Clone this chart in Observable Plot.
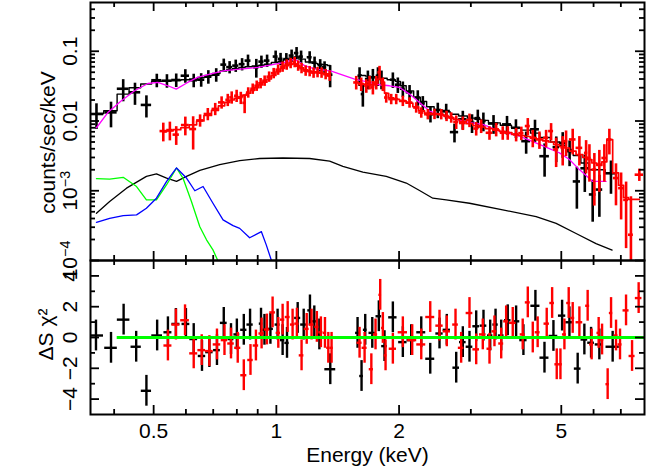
<!DOCTYPE html>
<html><head><meta charset="utf-8">
<script src="https://cdn.jsdelivr.net/npm/d3@7"></script>
<script src="https://cdn.jsdelivr.net/npm/@observablehq/plot@0.6"></script>
<style>
body{margin:0;background:#fff;}
#chart{position:relative;width:648px;height:467px;}
#chart svg{position:absolute;left:0;overflow:visible;}
</style></head><body><div id="chart"></div><script>
// ---------------- data ----------------
const blackE = [0.362,0.393,0.421,0.450,0.480,0.509,0.539,0.568,0.598,0.627,0.654,0.681,0.712,0.743,0.768,0.795,0.824,0.852,0.893,0.919,0.949,0.996,1.024,1.058,1.090,1.121,1.150,1.207,1.241,1.281,1.313,1.355,1.600,1.630,1.677,1.725,1.775,1.811,1.931,1.986,2.043,2.122,2.223,2.287,2.388,2.489,2.61,2.735,2.867,3.02,3.12,3.22,3.41,3.68,3.87,4.10,4.31,4.55,4.86,5.04,5.24,5.46,5.71,5.97,6.20,6.62];
const blackFlux = [0.0126,0.0133,0.0290,0.0258,0.0170,0.0384,0.0378,0.0387,0.0446,0.0384,0.0391,0.0432,0.0461,0.0643,0.0592,0.0622,0.0653,0.0734,0.0588,0.0710,0.0734,0.0839,0.0777,0.0772,0.0867,0.0942,0.0839,0.0820,0.0687,0.0632,0.0588,0.0461,0.0446,0.0243,0.0400,0.0422,0.0446,0.0400,0.0391,0.0331,0.0290,0.0258,0.0217,0.0179,0.0125,0.0144,0.0139,0.00693,0.0106,0.00945,0.0110,0.0100,0.0092,0.00895,0.0080,0.00514,0.0076,0.00313,0.00422,0.00486,0.00369,0.00136,0.0021,0.000885,0.00104,0.00178];
const blackRelErr = [0.4,0.4,0.35,0.35,0.35,0.22,0.22,0.22,0.22,0.22,0.22,0.22,0.22,0.2,0.2,0.2,0.2,0.2,0.3,0.2,0.2,0.2,0.2,0.2,0.2,0.2,0.2,0.2,0.2,0.2,0.2,0.35,0.3,0.35,0.3,0.3,0.3,0.3,0.25,0.25,0.25,0.25,0.25,0.25,0.25,0.25,0.25,0.3,0.3,0.3,0.3,0.3,0.3,0.3,0.3,0.35,0.35,0.5,0.4,0.4,0.4,0.6,0.55,0.6,0.6,0.5];
const blackModel = [0.0128,0.0140,0.0243,0.0300,0.0340,0.0370,0.0375,0.0380,0.0390,0.0400,0.0420,0.0450,0.0480,0.0520,0.0545,0.0565,0.0585,0.0600,0.0615,0.0630,0.0650,0.0690,0.0720,0.0760,0.0800,0.0830,0.0770,0.0700,0.0670,0.0650,0.0640,0.0625,0.0460,0.0450,0.0440,0.0430,0.0425,0.0410,0.0390,0.0370,0.0320,0.0270,0.0220,0.0190,0.0160,0.0145,0.0135,0.0125,0.0118,0.0110,0.0106,0.0102,0.0094,0.0087,0.0080,0.0074,0.0067,0.0058,0.0050,0.0045,0.0039,0.0032,0.0025,0.0020,0.0020,0.0018];

const redE = [0.528,0.548,0.568,0.598,0.625,0.650,0.679,0.708,0.734,0.760,0.777,0.799,0.818,0.836,0.853,0.875,0.895,0.915,0.936,0.960,0.985,1.010,1.036,1.060,1.084,1.109,1.131,1.153,1.180,1.207,1.234,1.262,1.291,1.321,1.351,1.570,1.615,1.662,1.693,1.725,1.758,1.791,1.825,1.860,1.913,1.968,2.043,2.122,2.203,2.267,2.353,2.443,2.538,2.615,2.685,2.762,2.867,2.977,3.092,3.18,3.333,3.461,3.592,3.695,3.874,3.99,4.138,4.256,4.419,4.589,4.72,4.857,5.04,5.137,5.333,5.538,5.752,5.861,6.027,6.199,6.377,6.56,6.81,7.01,7.21,7.41,7.77];
const redFlux = [0.00717,0.00741,0.00638,0.00875,0.00767,0.0102,0.0126,0.0149,0.0185,0.0201,0.0218,0.0230,0.0215,0.0182,0.0256,0.0290,0.0320,0.0348,0.0378,0.0432,0.0485,0.0544,0.0601,0.0643,0.0676,0.0698,0.0622,0.0573,0.0527,0.0518,0.0493,0.0501,0.0493,0.0469,0.0446,0.0357,0.0339,0.0320,0.0357,0.0303,0.0357,0.0498,0.0339,0.0217,0.0206,0.0206,0.0194,0.0184,0.0156,0.0132,0.0125,0.0126,0.0125,0.0118,0.0112,0.00968,0.00936,0.0103,0.0078,0.00847,0.00678,0.00759,0.00678,0.00678,0.00643,0.0067,0.00847,0.00574,0.00544,0.00574,0.00717,0.00391,0.00412,0.00514,0.00544,0.00412,0.00349,0.00295,0.00201,0.00237,0.00295,0.00544,0.00152,0.00109,0.00074,0.000234,0.0017];
const redRelErr = [0.3,0.3,0.3,0.3,0.5,0.2,0.2,0.2,0.2,0.2,0.2,0.2,0.2,0.3,0.17,0.17,0.17,0.17,0.17,0.17,0.17,0.17,0.17,0.17,0.17,0.17,0.17,0.17,0.17,0.17,0.17,0.17,0.17,0.17,0.17,0.22,0.22,0.22,0.22,0.22,0.22,0.22,0.22,0.17,0.17,0.17,0.17,0.17,0.17,0.17,0.17,0.17,0.17,0.17,0.17,0.22,0.22,0.22,0.22,0.22,0.22,0.22,0.22,0.22,0.22,0.22,0.28,0.28,0.28,0.28,0.28,0.45,0.45,0.4,0.4,0.45,0.5,0.55,0.7,0.6,0.55,0.4,0.6,0.65,0.8,2.5,0.2];
const redModel = [0.0070,0.0072,0.0075,0.0080,0.0088,0.0100,0.0120,0.0142,0.0165,0.0185,0.0200,0.0212,0.0222,0.0235,0.0250,0.0275,0.0300,0.0330,0.0360,0.0400,0.0450,0.0510,0.0570,0.0620,0.0650,0.0660,0.0620,0.0580,0.0540,0.0520,0.0505,0.0495,0.0485,0.0475,0.0465,0.0355,0.0345,0.0335,0.0330,0.0330,0.0345,0.0400,0.0360,0.0250,0.0215,0.0205,0.0195,0.0180,0.0160,0.0140,0.0130,0.0127,0.0124,0.0118,0.0112,0.0105,0.0098,0.0092,0.0086,0.0082,0.0078,0.0074,0.0071,0.0068,0.0064,0.0062,0.0060,0.0058,0.0055,0.0052,0.0050,0.0046,0.0043,0.0041,0.0037,0.0033,0.0030,0.0028,0.0025,0.0023,0.0026,0.0054,0.0018,0.0012,0.00080,0.00075,0.00075];

const magentaE = [0.362,0.386,0.416,0.449,0.484,0.512,0.542,0.568,0.606,0.641,0.691,0.747,0.901,1.048,1.109,1.173,1.241,1.364,1.556,1.693,1.791,1.895,2.005,2.122,2.245,2.376,2.66,2.977,3.21,3.526,3.948,4.419,4.948,5.235,5.538,5.97,6.438];
const magentaV = [0.0080,0.0132,0.0194,0.0271,0.0345,0.0357,0.0320,0.0287,0.0357,0.0422,0.0472,0.0527,0.0588,0.0694,0.0772,0.0622,0.0557,0.0518,0.0400,0.0357,0.0331,0.0320,0.0303,0.0243,0.0184,0.0139,0.0112,0.00945,0.00896,0.00717,0.00608,0.00461,0.00349,0.0028,0.00201,0.00136,0.00136];

const compBlackE = [0.362,0.390,0.429,0.480,0.508,0.538,0.569,0.602,0.649,0.726,0.813,0.910,1.038,1.207,1.351,1.456,1.630,1.860,2.083,2.245,2.42,2.61,2.977,3.592,4.338,4.857,5.436,6.084,6.663];
const compBlackV = [0.000475,0.000701,0.00109,0.00161,0.00174,0.00152,0.00136,0.00161,0.00196,0.00237,0.00271,0.0029,0.00295,0.0029,0.00265,0.00224,0.00185,0.00161,0.00129,0.00101,0.000782,0.000741,0.000662,0.000532,0.000426,0.00034,0.000244,0.000175,0.000141];
const compGreenE = [0.362,0.390,0.421,0.454,0.480,0.508,0.538,0.569,0.590,0.619,0.649,0.674,0.699,0.719];
const compGreenV = [0.00149,0.00147,0.00156,0.00115,0.000741,0.000741,0.00122,0.00212,0.00152,0.000701,0.000305,0.000198,0.000142,0.0000987];
const compBlueE = [0.362,0.390,0.421,0.454,0.480,0.508,0.538,0.569,0.602,0.631,0.661,0.699,0.740,0.783,0.813,0.860,0.919,0.945,0.972];
const compBlueV = [0.000352,0.000403,0.000441,0.000451,0.000561,0.000782,0.00136,0.00212,0.00152,0.001,0.00115,0.000662,0.000382,0.000316,0.000289,0.000212,0.000259,0.000166,0.000101];

const blackResE = [0.361,0.393,0.422,0.453,0.480,0.510,0.542,0.567,0.600,0.627,0.657,0.685,0.715,0.743,0.774,0.800,0.832,0.862,0.917,0.935,0.967,1.007,1.036,1.062,1.128,1.167,1.209,1.239,1.275,1.356,1.582,1.618,1.652,1.719,1.784,1.842,1.931,2.043,2.142,2.267,2.385,2.513,2.619,2.762,2.867,2.977,3.092,3.222,3.346,3.449,3.561,3.695,3.874,4.037,4.32,4.547,4.783,5.023,5.235,5.485,5.696,5.916,6.199,6.683];
const blackRes = [0.13,-0.67,1.16,-0.6,-3.46,0.13,0.34,0.88,0.88,-0.1,-1.2,-0.95,-0.82,0.95,-0.1,0.2,0.5,0.84,0.9,0.5,0.56,0.84,-0.17,-0.35,1.27,0.84,1.76,1.05,0.2,-2.06,0.3,-2.5,0.5,0.3,1.38,-0.56,1.31,-0.3,-0.17,0.34,-1.38,0.26,0.5,-1.96,-0.3,-0.6,0.73,0.77,0.13,0.84,0.13,1.12,1.05,-0.17,2.06,-1.31,0.1,1.42,0.99,-2.02,-0.13,-0.34,-0.45,-0.6];
const redResE = [0.542,0.567,0.597,0.627,0.656,0.685,0.715,0.746,0.774,0.804,0.832,0.864,0.891,0.920,0.948,0.979,1.011,1.036,1.066,1.096,1.123,1.153,1.187,1.22,1.257,1.286,1.316,1.341,1.366,1.600,1.646,1.710,1.751,1.798,1.825,1.853,1.931,2.043,2.154,2.267,2.385,2.513,2.619,2.751,2.840,2.977,3.092,3.209,3.333,3.428,3.561,3.662,3.801,4.021,4.138,4.256,4.375,4.605,4.748,4.873,4.976,5.089,5.214,5.333,5.538,5.803,5.935,6.175,6.295,6.497,6.623,6.812,6.967,7.208,7.457,7.74];
const redRes = [-0.52,0.84,1.12,-1.03,-0.82,-0.88,-0.45,-0.17,-0.39,-0.67,-2.45,-1.46,-0.52,0.26,0.52,1.63,0.3,1.16,1.33,0.84,0.9,-1.16,0.56,0.84,0.69,0.34,0.3,-0.67,-0.67,-0.34,-0.67,-2.06,0.2,2.77,0.62,-1.16,-0.73,0.34,-0.17,-0.45,1.33,0.77,0.4,0.84,-0.67,1.59,-0.77,0.2,-0.73,0.4,-0.39,1.05,0.95,0.2,2.28,0,0.34,0.9,2.24,-1.74,-1.74,0.2,2.24,1.27,0.99,2.06,-0.45,0.3,-0.13,-3.03,1.59,0.13,-0.45,1.76,-1.2,2.56];
const resErr = 1;              // delchi residuals have unit error bars
const zeroLineRange = [0.407, 8];

const xLabels = [0.5, 1, 2, 5];
const xMinor = [0.4, 0.6, 0.7, 0.8, 0.9, 3, 4, 6, 7];
const yTopLabels = [{v: 0.1, t: "0.1"}, {v: 0.01, t: "0.01"}, {v: 0.001, t: "10^−3"}, {v: 0.0001, t: "10^−4"}];
const yResLabels = [4, 2, 0, -2, -4];
const yResMinor = [3, 1, -1, -3];

// ---------------- layout ----------------
const W = 648, LM = 90, RM = 4, IW = W - LM - RM;
const topH = 261, topMT = 2, topMB = 1, topIH = topH - topMT - topMB;
const botTop = 259, botH = 208, botMT = 1, botMB = 53, botIH = botH - botMT - botMB;
const FONT = "'Liberation Sans', Arial, Helvetica, sans-serif";
const RED = "#ff0000", GREEN = "#00ff00", BLUE = "#0000ff", MAGENTA = "#ff00ff";

function binEdges(E) {
  const L = E.map(Math.log10);
  return E.map((e, i) => {
    const dl = i > 0 ? L[i] - L[i - 1] : Infinity;
    const dr = i < E.length - 1 ? L[i + 1] - L[i] : Infinity;
    const h = Math.min(dl, dr) / 2;
    return [10 ** (L[i] - h), 10 ** (L[i] + h)];
  });
}
function specTable(E, F, R, M) {
  const b = binEdges(E);
  return E.map((e, i) => ({e, v: F[i], lo: b[i][0], hi: b[i][1],
    y1: Math.max(F[i] * (1 - R[i]), 1e-7), y2: F[i] * (1 + R[i]), m: M[i], seg: e < 1.45 ? 0 : 1}));
}
function resTable(E, Rs) {
  const b = binEdges(E);
  return E.map((e, i) => ({e, r: Rs[i], lo: b[i][0], hi: b[i][1]}));
}
const pts = (E, V) => E.map((e, i) => ({e, v: V[i]}));

const blackTab = specTable(blackE, blackFlux, blackRelErr, blackModel);
const redTab = specTable(redE, redFlux, redRelErr, redModel);
const blackResTab = resTable(blackResE, blackRes);
const redResTab = resTable(redResE, redRes);

function ticks(xMaj, xMin, yMaj, yMin, IH) {
  const s = {stroke: "black", strokeWidth: 1.8};
  return [
    Plot.ruleX(xMaj, {x: d => d, insetTop: IH - 9, ...s}),
    Plot.ruleX(xMaj, {x: d => d, insetBottom: IH - 9, ...s}),
    Plot.ruleX(xMin, {x: d => d, insetTop: IH - 5, ...s}),
    Plot.ruleX(xMin, {x: d => d, insetBottom: IH - 5, ...s}),
    Plot.ruleY(yMaj, {y: d => d, insetRight: IW - 9, ...s}),
    Plot.ruleY(yMaj, {y: d => d, insetLeft: IW - 9, ...s}),
    Plot.ruleY(yMin, {y: d => d, insetRight: IW - 5, ...s}),
    Plot.ruleY(yMin, {y: d => d, insetLeft: IW - 5, ...s})
  ];
}
const yTopMinor = [];
for (const d of [1e-4, 1e-3, 1e-2, 1e-1]) for (let k = 2; k <= 9; k++) if (d * k < 0.499) yTopMinor.push(d * k);

const common = {
  width: W, marginLeft: LM, marginRight: RM,
  x: {type: "log", domain: [0.35, 8], axis: null},
  style: {fontFamily: FONT, fontSize: "21px", background: "transparent", overflow: "visible"}
};

function crosses(tab, color, yKey, y1, y2, sw) {
  return [
    Plot.ruleY(tab, {y: yKey, x1: "lo", x2: "hi", stroke: color, strokeWidth: sw, clip: true}),
    Plot.ruleX(tab, {x: "e", y1, y2, stroke: color, strokeWidth: sw, clip: true})
  ];
}
const vtext = {frameAnchor: "left", rotate: -90, textAnchor: "middle", lineAnchor: "middle", fontSize: 21};

const topPlot = Plot.plot({
  ...common, height: topH, marginTop: topMT, marginBottom: topMB,
  y: {type: "log", domain: [1e-4, 0.5], axis: null},
  marks: [
    Plot.line(pts(compBlackE, compBlackV), {x: "e", y: "v", stroke: "black", strokeWidth: 1.3, clip: true}),
    Plot.line(pts(compGreenE, compGreenV), {x: "e", y: "v", stroke: GREEN, strokeWidth: 1.3, clip: true}),
    Plot.line(pts(compBlueE, compBlueV), {x: "e", y: "v", stroke: BLUE, strokeWidth: 1.3, clip: true}),
    ...crosses(blackTab, "black", "v", "y1", "y2", 2.6),
    Plot.line(blackTab, {x: "e", y: "m", z: "seg", curve: "step", stroke: "black", strokeWidth: 1.4, clip: true}),
    Plot.line(pts(magentaE, magentaV), {x: "e", y: "v", stroke: MAGENTA, strokeWidth: 1.3, clip: true}),
    ...crosses(redTab, RED, "v", "y1", "y2", 2.6),
    Plot.line(redTab, {x: "e", y: "m", z: "seg", curve: "step", stroke: RED, strokeWidth: 1.7, clip: true}),
    ...ticks(xLabels, xMinor, yTopLabels.map(d => d.v), yTopMinor, topIH),
    Plot.frame({stroke: "black", strokeWidth: 2}),
    Plot.text(yTopLabels, {y: "v", text: "t", dx: -20, ...vtext}),
    Plot.text(["counts/sec/keV"], {text: d => d, dx: -42, dy: 11, ...vtext})
  ]
});

const bottomPlot = Plot.plot({
  ...common, height: botH, marginTop: botMT, marginBottom: botMB,
  y: {domain: [-5, 5], axis: null},
  marks: [
    ...crosses(blackResTab, "black", "r", d => d.r - resErr, d => d.r + resErr, 2.4),
    ...crosses(redResTab, RED, "r", d => d.r - resErr, d => d.r + resErr, 2.4),
    Plot.ruleY([0], {x1: zeroLineRange[0], x2: zeroLineRange[1], stroke: GREEN, strokeWidth: 2.8}),
    ...ticks(xLabels, xMinor, yResLabels, yResMinor, botIH),
    Plot.frame({stroke: "black", strokeWidth: 2}),
    Plot.text(yResLabels, {y: d => d, text: d => d < 0 ? "−" + (-d) : String(d), dx: -20, ...vtext}),
    Plot.text(["ΔS χ²"], {text: d => d, dx: -44, dy: -3, ...vtext}),
    Plot.text(xLabels, {x: d => d, text: d => String(d), frameAnchor: "bottom", textAnchor: "middle", lineAnchor: "top", dy: 9, fontSize: 21}),
    Plot.text(["Energy (keV)"], {text: d => d, frameAnchor: "bottom", textAnchor: "middle", lineAnchor: "bottom", dy: 47, fontSize: 21})
  ]
});

function superscripts(svg) {
  d3.select(svg).selectAll("text").each(function () {
    const t = this.textContent;
    if (t.includes("^")) {
      const [b, s] = t.split("^");
      this.textContent = b;
      d3.select(this).append("tspan").attr("dy", "-0.5em").attr("font-size", "0.68em").text(s);
    }
  });
}
superscripts(topPlot);

const chart = document.getElementById("chart");
topPlot.style.top = "0px";
bottomPlot.style.top = botTop + "px";
chart.appendChild(topPlot);
chart.appendChild(bottomPlot);
</script></body></html>
